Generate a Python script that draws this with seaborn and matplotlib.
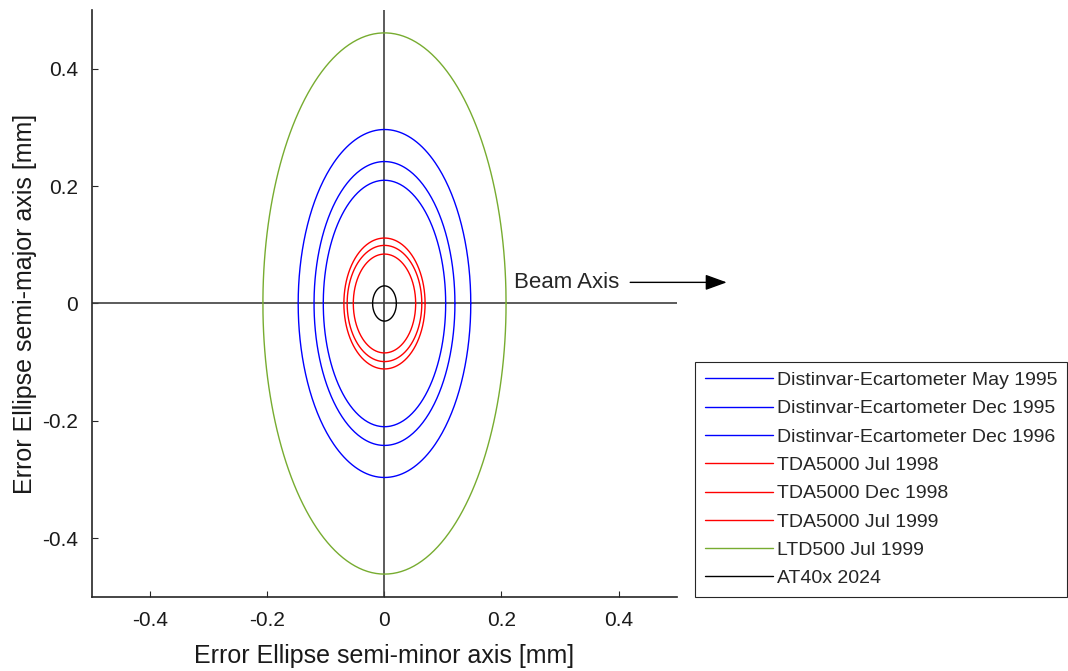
import numpy as np
import pandas as pd
import matplotlib
matplotlib.use("Agg")
import matplotlib.pyplot as plt
import seaborn as sns

# error ellipse semi-axes [mm]
labels = ["Distinvar-Ecartometer May 1995", "Distinvar-Ecartometer Dec 1995",
          "Distinvar-Ecartometer Dec 1996", "TDA5000 Jul 1998", "TDA5000 Dec 1998",
          "TDA5000 Jul 1999", "LTD500 Jul 1999", "AT40x 2024"]
semi_minor = [0.1475, 0.1204, 0.1046, 0.0694, 0.0638, 0.0533, 0.2078, 0.0203]
semi_major = [0.2964, 0.2418, 0.2099, 0.1115, 0.0990, 0.0842, 0.4610, 0.0300]
colors = ["#0000ff", "#0000ff", "#0000ff", "#ff0000", "#ff0000", "#ff0000",
          "#77ac30", "#000000"]
ticks = [-0.4, -0.2, 0, 0.2, 0.4]
tick_labels = ["-0.4", "-0.2", "0", "0.2", "0.4"]

sns.set_theme(style="ticks")
plt.rcParams["font.family"] = ["Liberation Sans", "DejaVu Sans"]
plt.rcParams["axes.unicode_minus"] = False

fig = plt.figure(figsize=(10.68, 6.71), dpi=100)
ax = fig.add_axes([0.0861, 0.1103, 0.5478, 0.8748])

t = np.linspace(0, 2 * np.pi, 361)
frames = []
for lab, a, b in zip(labels, semi_minor, semi_major):
    frames.append(pd.DataFrame({"x": a * np.cos(t), "y": b * np.sin(t), "label": lab}))
df = pd.concat(frames, ignore_index=True)

ax.axhline(0, color="#404040", lw=1.2, zorder=1)
ax.axvline(0, color="#404040", lw=1.2, zorder=1)

for lab, c in zip(labels, colors):
    sns.lineplot(data=df[df["label"] == lab], x="x", y="y", sort=False,
                 estimator=None, color=c, lw=1.0, label=lab, ax=ax)

ax.annotate("", xy=(0.585, 0.036), xytext=(0.42, 0.036), xycoords="data",
            annotation_clip=False,
            arrowprops=dict(arrowstyle="-|>,head_length=1.1,head_width=0.4",
                            color="black", lw=1.0, shrinkA=0, shrinkB=0))
ax.text(0.222, 0.036, "Beam Axis", fontsize=16, va="center", ha="left")

ax.set_xlim(-0.5, 0.5)
ax.set_ylim(-0.5, 0.5)
ax.set_xticks(ticks)
ax.set_xticklabels(tick_labels)
ax.set_yticks(ticks)
ax.set_yticklabels(tick_labels)
ax.tick_params(direction="in", length=4, width=0.8, colors="#262626",
               labelsize=15, labelcolor="#1a1a1a", pad=10)
ax.set_xlabel("Error Ellipse semi-minor axis [mm]", fontsize=18, color="#1a1a1a",
              labelpad=10)
ax.set_ylabel("Error Ellipse semi-major axis [mm]", fontsize=18, color="#1a1a1a",
              labelpad=4)
sns.despine(ax=ax)
for s in ["left", "bottom"]:
    ax.spines[s].set_color("#262626")
    ax.spines[s].set_linewidth(1.2)

leg = ax.legend(loc="lower left", bbox_to_anchor=(0.6507, 0.1103),
                bbox_transform=fig.transFigure, borderaxespad=0, fontsize=14,
                frameon=True, fancybox=False, framealpha=1, edgecolor="#262626",
                handlelength=3.5, handletextpad=0.2, labelspacing=0.55,
                borderpad=0.5)
leg.get_frame().set_linewidth(0.8)

fig.savefig("out.png", dpi=100)
